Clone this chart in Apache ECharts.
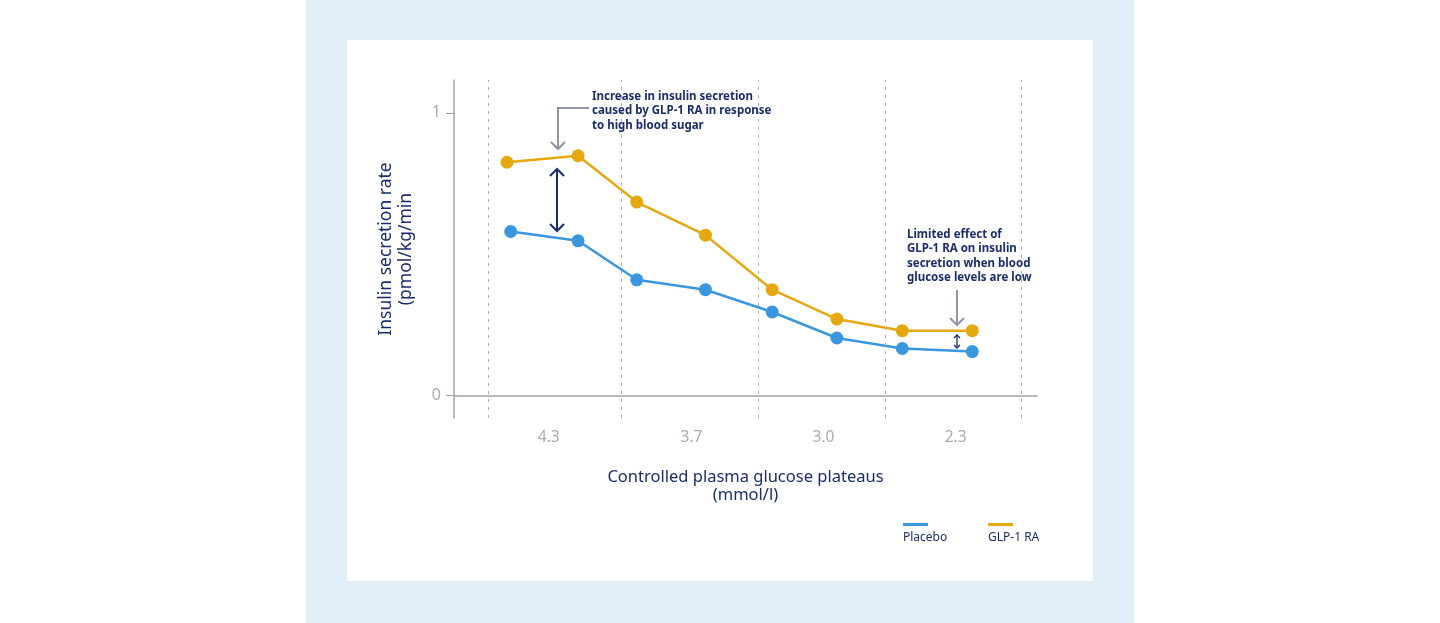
<!DOCTYPE html>
<html>
<head>
<meta charset="utf-8">
<script src="https://cdn.jsdelivr.net/npm/echarts@6/dist/echarts.min.js"></script>
<style>
  html, body { margin: 0; padding: 0; background: #fff; }
  #chart { width: 1440px; height: 623px; }
</style>
</head>
<body>
<div id="chart"></div>
<script>
// x positions are in "plateau slot" units: each glucose plateau spans 2 units
const plateauLabels = ['4.3', '3.7', '3.0', '2.3']
const plateauLabelPos = [1.42, 3.56, 5.54, 7.52]
const plateauBounds = [0.51, 2.51, 4.56, 6.47, 8.5]

const placeboX = [0.85, 1.86, 2.74, 3.77, 4.77, 5.74, 6.72, 7.77]
const placeboY = [0.580, 0.547, 0.409, 0.374, 0.295, 0.203, 0.166, 0.155]
const glpX = [0.795, 1.86, 2.74, 3.77, 4.77, 5.74, 6.72, 7.77]
const glpY = [0.825, 0.848, 0.684, 0.567, 0.374, 0.270, 0.229, 0.229]

const yTicks = [0, 1]

const NAVY = '#1b2d6b'
const BLUE = '#3b97dd'
const ORANGE = '#e6a80f'
const GREY = '#a7abb2'
const FONT = 'Noto Sans'

const pair = (xs, ys) => xs.map((x, i) => [x, ys[i]])

const chart = echarts.init(document.getElementById('chart'))

const annoText = (left, top, text) => ({
  type: 'text', left, top, z: 10,
  style: { text, fill: NAVY, font: `bold 11.5px "${FONT}"`, lineHeight: 14.6 }
})

chart.setOption({
  animation: false,
  textStyle: { fontFamily: FONT },
  grid: { left: 454, right: 403, top: 80, bottom: 205 },
  xAxis: {
    type: 'value',
    min: 0,
    max: 8.74,
    axisLine: { show: true, lineStyle: { color: '#9ea3ab', width: 1.5 } },
    axisTick: { show: false },
    splitLine: { show: false },
    axisLabel: {
      customValues: plateauLabelPos,
      formatter: v => plateauLabels[plateauLabelPos.indexOf(v)] ?? '',
      color: GREY, fontSize: 15.5, margin: 12, fontFamily: FONT
    },
    name: 'Controlled plasma glucose plateaus\n(mmol/l)',
    nameLocation: 'middle',
    nameGap: 50,
    nameTextStyle: { color: NAVY, fontSize: 16.5, lineHeight: 18, fontFamily: FONT }
  },
  yAxis: {
    type: 'value',
    min: -0.08,
    max: 1.116,
    axisLine: { show: true, lineStyle: { color: '#9ea3ab', width: 1.5 } },
    axisTick: { show: true, customValues: yTicks, length: 8, lineStyle: { color: '#9ea3ab' } },
    splitLine: { show: false },
    axisLabel: {
      customValues: yTicks,
      color: GREY, fontSize: 16, margin: 13, fontFamily: FONT
    },
    name: 'Insulin secretion rate\n(pmol/kg/min',
    nameLocation: 'middle',
    nameGap: 38,
    nameTextStyle: { color: NAVY, fontSize: 17.5, lineHeight: 20, fontFamily: FONT }
  },
  series: [
    {
      name: 'Placebo',
      type: 'line',
      data: pair(placeboX, placeboY),
      symbol: 'circle',
      symbolSize: 13,
      lineStyle: { color: BLUE, width: 2.5 },
      itemStyle: { color: BLUE },
      z: 3,
      markLine: {
        silent: true,
        symbol: 'none',
        label: { show: false },
        lineStyle: { color: '#aeb2b8', type: [3, 5], width: 1 },
        data: plateauBounds.map(x => ({ xAxis: x }))
      }
    },
    {
      name: 'GLP-1 RA',
      type: 'line',
      data: pair(glpX, glpY),
      symbol: 'circle',
      symbolSize: 13,
      lineStyle: { color: ORANGE, width: 2.5 },
      itemStyle: { color: ORANGE },
      z: 4
    }
  ],
  graphic: [
    // backdrop: light blue panel and white card
    { type: 'rect', shape: { x: 306, y: 0, width: 828, height: 623 }, style: { fill: '#e0eef8' }, z: -20, silent: true },
    { type: 'rect', shape: { x: 347, y: 40, width: 746, height: 541 }, style: { fill: '#ffffff' }, z: -19, silent: true },

    // annotation: high glucose
    annoText(592, 89, 'Increase in insulin secretion\ncaused by GLP-1 RA in response\nto high blood sugar'),
    { type: 'polyline', z: 10, shape: { points: [[589, 108], [558, 108], [558, 149]] },
      style: { stroke: '#8e96a3', lineWidth: 2, fill: null } },
    { type: 'polyline', z: 10, shape: { points: [[551, 142], [558, 149], [565, 142]] },
      style: { stroke: '#8e96a3', lineWidth: 2, fill: null } },
    { type: 'line', z: 10, shape: { x1: 557, y1: 169, x2: 557, y2: 231 }, style: { stroke: NAVY, lineWidth: 2 } },
    { type: 'polyline', z: 10, shape: { points: [[550, 176], [557, 169], [564, 176]] },
      style: { stroke: NAVY, lineWidth: 2, fill: null } },
    { type: 'polyline', z: 10, shape: { points: [[550, 224], [557, 231], [564, 224]] },
      style: { stroke: NAVY, lineWidth: 2, fill: null } },

    // annotation: low glucose
    annoText(907, 227, 'Limited effect of\nGLP-1 RA on insulin\nsecretion when blood\nglucose levels are low'),
    { type: 'line', z: 10, shape: { x1: 957, y1: 290, x2: 957, y2: 325 }, style: { stroke: '#8e96a3', lineWidth: 2 } },
    { type: 'polyline', z: 10, shape: { points: [[950, 318], [957, 325], [964, 318]] },
      style: { stroke: '#8e96a3', lineWidth: 2, fill: null } },
    { type: 'line', z: 10, shape: { x1: 957, y1: 335, x2: 957, y2: 348 }, style: { stroke: NAVY, lineWidth: 1.3 } },
    { type: 'polyline', z: 10, shape: { points: [[954, 338], [957, 335], [960, 338]] },
      style: { stroke: NAVY, lineWidth: 1.3, fill: null } },
    { type: 'polyline', z: 10, shape: { points: [[954, 345], [957, 348], [960, 345]] },
      style: { stroke: NAVY, lineWidth: 1.3, fill: null } },

    // legend (line swatch above label)
    { type: 'rect', shape: { x: 903, y: 523, width: 25, height: 3 }, style: { fill: BLUE } },
    { type: 'text', left: 903, top: 532, style: { text: 'Placebo', fill: NAVY, font: `12px "${FONT}"` } },
    { type: 'rect', shape: { x: 988, y: 523, width: 25, height: 3 }, style: { fill: ORANGE } },
    { type: 'text', left: 988, top: 532, style: { text: 'GLP-1 RA', fill: NAVY, font: `12px "${FONT}"` } }
  ]
})
</script>
</body>
</html>
